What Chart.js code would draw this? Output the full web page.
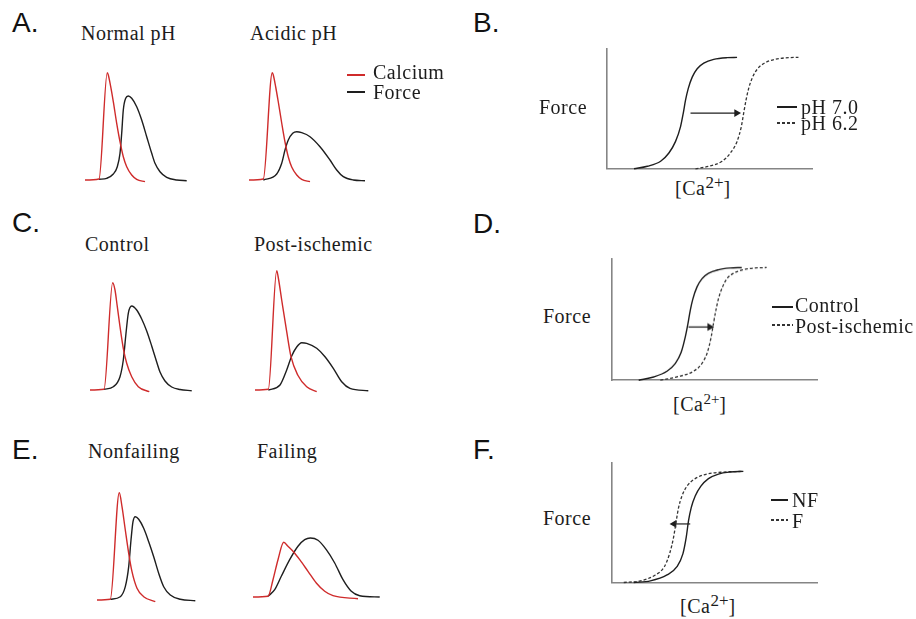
<!DOCTYPE html>
<html>
<head>
<meta charset="utf-8">
<title>Calcium transients and force-calcium relations</title>
<script src="https://cdn.jsdelivr.net/npm/chart.js@4.4.1/dist/chart.umd.min.js"></script>
<style>
  body { margin: 0; background: #fff; }
  #figure { position: relative; width: 916px; height: 619px; overflow: hidden; background: #fff; }
  .box { position: absolute; }
  .txt { position: absolute; font-family: "Liberation Serif", "Times New Roman", serif; font-size: 20px;
         line-height: 20px; color: #1c1c1c; letter-spacing: 0.5px; white-space: nowrap; }
  .txt sup { font-size: 17px; line-height: 0; vertical-align: 7px; letter-spacing: 0; }
  .letter { position: absolute; font-family: "Liberation Sans", Arial, sans-serif; font-size: 28px;
            line-height: 28px; color: #111; white-space: nowrap; }
  .key { position: absolute; height: 1.4px; }
</style>
</head>
<body>
<div id="figure"></div>
<script>
// ---- transients: [time, amplitude] (a.u.), red = calcium, black = force ----
const normalPhCalcium = [[0,0],[14,1],[22.3,107.3],[23.3,105],[25.7,93.3],[28.3,78.3],[31.7,56.7],[35,38.3],[38.3,23.3],[41.7,13.3],[46.7,5],[51.7,0.7],[60,-1.7]];
const normalPhForce = [[14,0.7],[21.7,1.7],[28.3,6],[32.3,13.3],[35,26.7],[36.7,46.7],[38.3,70],[40.7,81.7],[43.3,84],[46.7,81.7],[51.7,73.3],[56.7,60],[61.7,43.3],[66.7,26.7],[70,16.7],[75,8.3],[81.7,2.7],[91.7,0],[101.7,-0.7]];

const acidicPhCalcium = [[0,0],[14.3,1],[23.3,107.3],[24.3,105],[26.7,93],[29.3,78],[32.7,57],[36,38],[39.3,23],[42.7,13],[47.7,5],[52.7,0.7],[61,-1.7]];
const acidicPhForce = [[14.3,0],[27.7,6],[32.7,16.7],[36,30],[39.3,40],[43.7,46.7],[47.7,48.3],[52.7,47.3],[61,43.3],[71,33.3],[81,20],[87.7,10],[94.3,3.3],[104.3,0],[116,-0.7]];

const controlCalcium = [[0,0],[14,0.7],[22.7,107.3],[25,100],[27.3,83.3],[30,63.3],[33.3,41.7],[36.7,26.7],[41.7,13.3],[48.3,3.3],[59.3,-1.7]];
const controlForce = [[14,0.7],[23.3,3.3],[30,13.3],[33.3,30],[36,56.7],[38.3,76.7],[41.7,84],[46.7,80],[51.7,71],[56.7,59],[61.7,44],[66.7,28],[70,18],[75,9],[81.7,3],[90,0.5],[101.7,-0.7]];

const postIschemicCalcium = [[0,0],[13.3,0.7],[21.7,119.3],[23,114],[26.7,90],[31.7,58.3],[36,33.3],[42.7,15],[51.7,3.3],[61.7,-1.7]];
const postIschemicForce = [[13.3,0],[25,5],[31.7,20],[36.7,34],[41.7,43],[46.7,47.3],[51.7,46.7],[61.7,41.7],[70,33.3],[78.3,21.7],[86.7,8.3],[95,1.7],[113.3,-0.7]];

const nonfailingCalcium = [[0,0],[13.3,0.7],[22.3,107.3],[25,93.3],[28.3,70],[31.7,46.7],[35,28.3],[40,11.7],[46.7,3.3],[58.3,-1.7]];
const nonfailingForce = [[13.3,0.7],[23.3,3.3],[28.3,13.3],[31.7,33.3],[34,60],[36,78.3],[38.3,83.3],[41.7,80.7],[46.7,71.7],[51.7,58.3],[56.7,43.3],[61.7,26.7],[66.7,13.3],[73.3,5],[83.3,0.7],[98.3,-0.7]];

const failingCalcium = [[0,0],[15,0.7],[20,17.3],[25,37.3],[30.7,54.7],[35,50.7],[40,45.7],[46.7,37.3],[55,25.7],[63.3,14],[71.7,5.7],[80,1.3],[105,-1.7]];
const failingForce = [[15,0.7],[21.7,7.3],[28.3,20.7],[36.7,37.3],[45,50.7],[51.7,57.3],[57.3,59],[65,56.7],[73.3,47.3],[81.7,34],[90,17.3],[98.3,5.7],[106.7,1.3],[126.7,0]];

// ---- force-[Ca2+] curves: x = [Ca2+] (a.u.), force in % of maximum ----
const phForce = [0,2.3,6.8,14.2,24.6,37.9,49.8,61.6,72,82.3,89.8,94.8,98.3,99.8,100];
const ph70Ca = [27.6,41,54.3,62.6,69.3,74.3,77,79.3,82,86,91,97.6,107.6,121,131];
const ph62Ca = [89.3,102.6,116,124.3,131,135.3,137.6,140,142.6,146.6,151.6,158.3,169.3,182.6,192.6];
const phArrow = [[84.3,50],[130.5,50]];

const ischForce = [0,2.9,8,14.8,25,38.3,50.2,61.9,72.3,82.6,90,94.9,98.1,99.6,100];
const controlCa = [27.3,42.3,55.7,64,70,74,76.7,79,81.7,85.7,90.7,97.3,107.3,119,130.7];
const postIschemicCa = [49,65.7,82.3,90.7,96.3,100,102.3,104.7,107.3,111.3,115.7,122.3,132.3,144,155.7];
const ischArrow = [[77.3,47.2],[98.5,47.2]];

const hfForce = [0,1.5,6.8,14.2,26,40.8,55.6,67.4,77.8,86.7,93.5,97.6,99.4,100];
const nfCa = [22.3,39,55.7,65.7,71.7,75,77.3,80,84,89.7,97.3,107.3,119,132.3];
const fCa = [12.3,29,44,53,58.3,62.3,65,67.3,70.7,75.7,84,95.7,112.3,132.3];
const hfArrow = [[79,52.7],[62.8,52.7]];

const RED = '#cf2b2b';
const INK = '#1e1e1e';
const DASH = '#333';
const AXIS = '#858585';

const figure = document.getElementById('figure');

function box(left, top, width, height) {
    const div = document.createElement('div');
    div.className = 'box';
    div.style.left = left + 'px';
    div.style.top = top + 'px';
    div.style.width = width + 'px';
    div.style.height = height + 'px';
    const canvas = document.createElement('canvas');
    div.appendChild(canvas);
    figure.appendChild(div);
    return canvas;
}

// place text by its baseline
function text(cls, html, left, baseline) {
    const el = document.createElement('div');
    el.className = cls;
    el.innerHTML = html;
    el.style.left = left + 'px';
    el.style.top = (baseline - (cls === 'letter' ? 23.7 : 16.75)) + 'px';
    figure.appendChild(el);
}

function keyLine(left, top, width, color, dashed) {
    const el = document.createElement('div');
    el.className = 'key';
    el.style.left = left + 'px';
    el.style.top = (top - 0.7) + 'px';
    el.style.width = width + 'px';
    el.style.background = dashed
        ? 'repeating-linear-gradient(90deg, ' + color + ' 0 3px, transparent 3px 5px)'
        : color;
    figure.appendChild(el);
}

const toXY = pts => pts.map(p => ({ x: p[0], y: p[1] }));

function traceSet(pts, color) {
    return {
        data: toXY(pts),
        showLine: true,
        borderColor: color,
        borderWidth: 1.4,
        pointRadius: 0,
        cubicInterpolationMode: 'monotone',
        clip: false
    };
}

// calcium + force transient, 1 unit = 1 px in both directions
function transient(x0, base, calcium, force) {
    const canvas = box(x0, base - 120, 130, 130);
    new Chart(canvas, {
        type: 'scatter',
        data: { datasets: [traceSet(calcium, RED), traceSet(force, INK)] },
        options: {
            responsive: true,
            maintainAspectRatio: false,
            animation: false,
            layout: { padding: 0 },
            plugins: { legend: { display: false }, tooltip: { enabled: false } },
            scales: {
                x: { type: 'linear', min: 0, max: 130, display: false },
                y: { type: 'linear', min: -10, max: 120, display: false }
            }
        }
    });
}

function curveSet(xs, ys, dashed) {
    return {
        data: xs.map((x, i) => ({ x: x, y: ys[i] })),
        showLine: true,
        borderColor: dashed ? DASH : INK,
        borderWidth: dashed ? 1.3 : 1.4,
        borderDash: dashed ? [3, 2] : [],
        pointRadius: 0,
        cubicInterpolationMode: 'monotone',
        clip: false
    };
}

function arrowSet(pts, dir) {
    return {
        data: toXY(pts),
        showLine: true,
        borderColor: INK,
        backgroundColor: INK,
        borderWidth: 1.2,
        pointStyle: 'triangle',
        rotation: dir,
        pointRadius: [0, 4.5],
        pointBorderWidth: 0,
        clip: false
    };
}

// force-calcium plot with left and bottom axis lines only
function forceCa(ox, oy, top, right, datasets) {
    const pad = 4;
    const canvas = box(ox - pad, top - pad, right - ox + 2 * pad, oy - top + 2 * pad);
    const axis = (min, max) => ({
        type: 'linear', min: min, max: max,
        ticks: { display: false },
        grid: { display: false, drawTicks: false },
        border: { display: true, color: AXIS, width: 1.6 }
    });
    new Chart(canvas, {
        type: 'scatter',
        data: { datasets: datasets },
        options: {
            responsive: true,
            maintainAspectRatio: false,
            animation: false,
            layout: { padding: pad },
            plugins: { legend: { display: false }, tooltip: { enabled: false } },
            scales: { x: axis(0, 207), y: axis(0, 108) }
        }
    });
}

// A. pH transients
transient(85, 180, normalPhCalcium, normalPhForce);
transient(249, 180, acidicPhCalcium, acidicPhForce);
// C. ischemia transients
transient(90, 390, controlCalcium, controlForce);
transient(255, 390, postIschemicCalcium, postIschemicForce);
// E. heart failure transients
transient(96.7, 600, nonfailingCalcium, nonfailingForce);
transient(253, 597, failingCalcium, failingForce);

// B, D, F force-[Ca2+] relations
forceCa(605.7, 169.3, 48, 813, [
    curveSet(ph70Ca, phForce, false), curveSet(ph62Ca, phForce, true), arrowSet(phArrow, 90)
]);
forceCa(611, 380, 258.3, 818.3, [
    curveSet(controlCa, ischForce, false), curveSet(postIschemicCa, ischForce, true), arrowSet(ischArrow, 90)
]);
forceCa(611, 582.7, 461.7, 818.3, [
    curveSet(nfCa, hfForce, false), curveSet(fCa, hfForce, true), arrowSet(hfArrow, -90)
]);

// panel letters
text('letter', 'A.', 12, 33);
text('letter', 'B.', 473, 33);
text('letter', 'C.', 12, 233);
text('letter', 'D.', 473, 234);
text('letter', 'E.', 12, 460);
text('letter', 'F.', 473, 460);

// transient titles
text('txt', 'Normal pH', 81, 40);
text('txt', 'Acidic pH', 250, 40);
text('txt', 'Control', 85, 251);
text('txt', 'Post-ischemic', 254, 251);
text('txt', 'Nonfailing', 88, 458);
text('txt', 'Failing', 257, 458);

// transient key
keyLine(347, 75, 18, RED, false);
keyLine(347, 92, 18, INK, false);
text('txt', 'Calcium', 373, 78.3);
text('txt', 'Force', 373, 98.3);

// B labels
text('txt', 'Force', 539, 113.3);
text('txt', '[Ca<sup>2+</sup>]', 675, 195);
keyLine(777, 107, 20, INK, false);
keyLine(777, 123, 20, DASH, true);
text('txt', 'pH 7.0', 801, 113.3);
text('txt', 'pH 6.2', 801, 130);

// D labels
text('txt', 'Force', 543, 323);
text('txt', '[Ca<sup style="font-size:15px">2+</sup>]', 673, 411);
keyLine(772, 307, 21, INK, false);
keyLine(772, 325, 21, DASH, true);
text('txt', 'Control', 795, 311.7);
text('txt', 'Post-ischemic', 795, 333);

// F labels
text('txt', 'Force', 543, 525);
text('txt', '[Ca<sup>2+</sup>]', 680, 613);
keyLine(771, 500, 17, INK, false);
keyLine(771, 520, 17, DASH, true);
text('txt', 'NF', 792, 507);
text('txt', 'F', 792, 528);
</script>
</body>
</html>
